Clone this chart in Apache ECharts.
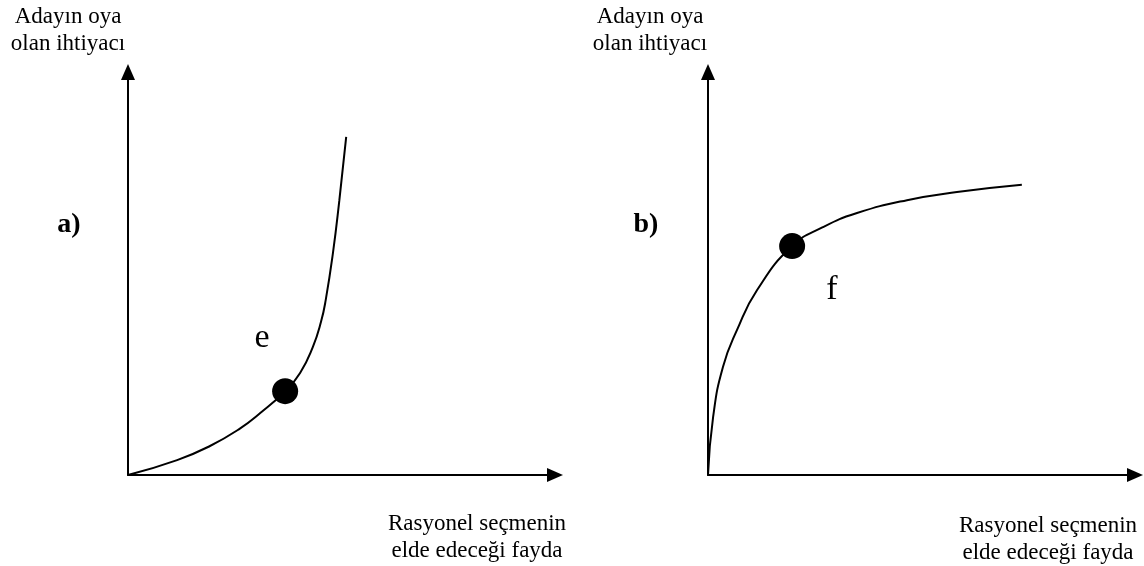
<!DOCTYPE html>
<html>
<head>
<meta charset="utf-8">
<script src="https://cdn.jsdelivr.net/npm/echarts@6/dist/echarts.min.js"></script>
<style>
html,body{margin:0;padding:0;background:#fff;}
#main{width:1144px;height:566px;}
</style>
</head>
<body>
<div id="main"></div>
<script>
// egri a) - artan, dis bukey
var curveA = [[0,0],[1.15,0.37],[1.92,0.72],[2.62,1.15],[3.09,1.53],[3.68,2.08],[4.03,2.53],[4.33,3.18],[4.52,3.80],[4.63,4.34],[4.80,5.51],[4.95,6.82],[5.11,8.39]];
var pointA = [[3.68,2.08]];
// egri b) - artan, ic bukey
var curveB = [[0,0],[0.12,1.44],[0.35,2.68],[0.68,3.60],[1.15,4.59],[1.97,5.68],[2.69,6.15],[3.49,6.50],[4.66,6.82],[5.83,7.02],[7.35,7.20]];
var pointB = [[1.97,5.68]];
var yName = 'Adayın oya\nolan ihtiyacı';
var xName = 'Rasyonel seçmenin\nelde edeceği fayda';
var panelNames = ['a)','b)'];
var pointNames = ['e','f'];

var chart = echarts.init(document.getElementById('main'));

function axis(idx){
	return {
		type:'value', gridIndex:idx, min:0, max:10,
		axisLine:{show:true, symbol:['none','triangle'], symbolSize:[14,16], lineStyle:{color:'#000', width:2}},
		axisTick:{show:false}, axisLabel:{show:false}, splitLine:{show:false}
	};
}
function txt(x, y, text, font){
	return {
		type:'text', x:x, y:y,
		style:{text:text, font:font, fill:'#000', align:'center', verticalAlign:'middle', lineHeight:27}
	};
}
var serif = '"Liberation Serif","DejaVu Serif",serif';

var option = {
	backgroundColor:'#fff',
	animation:false,
	grid:[
		{left:128, top:72, width:427, height:403},
		{left:708, top:72, width:427, height:403}
	],
	xAxis:[axis(0), axis(1)],
	yAxis:[axis(0), axis(1)],
	series:[
		{type:'line', xAxisIndex:0, yAxisIndex:0, data:curveA, smooth:0.5, showSymbol:false, lineStyle:{color:'#000', width:2}},
		{type:'scatter', xAxisIndex:0, yAxisIndex:0, data:pointA, symbolSize:26, z:5, itemStyle:{color:'#000', opacity:1}},
		{type:'line', xAxisIndex:1, yAxisIndex:1, data:curveB, smooth:0.5, showSymbol:false, lineStyle:{color:'#000', width:2}},
		{type:'scatter', xAxisIndex:1, yAxisIndex:1, data:pointB, symbolSize:26, z:5, itemStyle:{color:'#000', opacity:1}}
	],
	graphic:[
		txt(68, 30, yName, '23px ' + serif),
		txt(650, 30, yName, '23px ' + serif),
		txt(477, 537, xName, '23px ' + serif),
		txt(1048, 539, xName, '23px ' + serif),
		txt(69, 225, panelNames[0], 'bold 28px ' + serif),
		txt(646, 225, panelNames[1], 'bold 28px ' + serif),
		txt(262, 338, pointNames[0], '34px ' + serif),
		txt(832, 290, pointNames[1], '34px ' + serif)
	]
};
chart.setOption(option);
</script>
</body>
</html>
